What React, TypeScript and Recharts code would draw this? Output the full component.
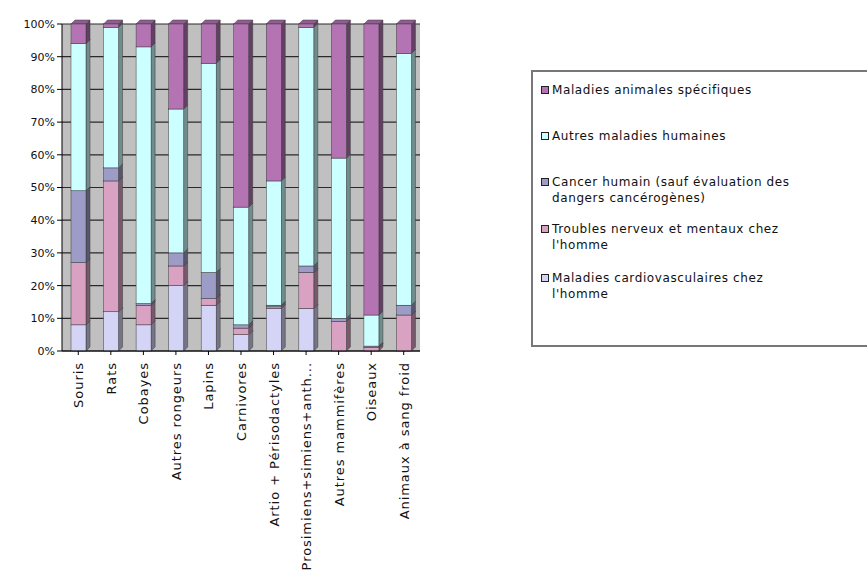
import React from "react";
import { BarChart, Bar, XAxis, YAxis, CartesianGrid } from "recharts";

const categories = [
  "Souris",
  "Rats",
  "Cobayes",
  "Autres rongeurs",
  "Lapins",
  "Carnivores",
  "Artio + Périsodactyles",
  "Prosimiens+simiens+anth...",
  "Autres mammifères",
  "Oiseaux",
  "Animaux à sang froid",
];

// parts in %, stacked bottom to top
const cardio = [8, 12, 8, 20, 14, 5, 13, 13, 0, 0, 0];
const troubles = [19, 40, 6, 6, 2, 2, 0.5, 11, 9, 1, 11];
const cancer = [22, 4, 0.5, 4, 8, 1, 0.5, 2, 1, 0.5, 3];
const autres = [45, 43, 78.5, 44, 64, 36, 38, 73, 49, 9.5, 77];
const animales = [6, 1, 7, 26, 12, 56, 48, 1, 41, 89, 9];

const yTicks = [0, 10, 20, 30, 40, 50, 60, 70, 80, 90, 100];

const series = [
  { key: "cardio", name: "Maladies cardiovasculaires chez\nl'homme", color: "#D4D4F6" },
  { key: "troubles", name: "Troubles nerveux et mentaux chez\nl'homme", color: "#D9A2C2" },
  { key: "cancer", name: "Cancer humain (sauf évaluation des\ndangers cancérogènes)", color: "#9C9CC6" },
  { key: "autres", name: "Autres maladies humaines", color: "#CCFFFF" },
  { key: "animales", name: "Maladies animales spécifiques", color: "#B474B4" },
];

const data = categories.map((name, i) => ({
  name,
  cardio: cardio[i],
  troubles: troubles[i],
  cancer: cancer[i],
  autres: autres[i],
  animales: animales[i],
}));

const FONT = "DejaVu Sans, Verdana, sans-serif";

function darken(hex: string, f: number) {
  const n = parseInt(hex.slice(1), 16);
  const r = Math.round(((n >> 16) & 255) * f);
  const g = Math.round(((n >> 8) & 255) * f);
  const b = Math.round((n & 255) * f);
  return `rgb(${r},${g},${b})`;
}

const D = 4;

function makeShape(color: string) {
  return (props: any) => {
    const { x, y, width, height } = props;
    if (!height || height <= 0) return <g />;
    const side = darken(color, 0.55);
    const top = darken(color, 0.8);
    return (
      <g>
        <polygon
          points={`${x + width},${y} ${x + width + D},${y - D} ${x + width + D},${y + height - D} ${x + width},${y + height}`}
          fill={side}
          stroke="#3a3a3a"
          strokeWidth={0.5}
        />
        <polygon
          points={`${x},${y} ${x + D},${y - D} ${x + width + D},${y - D} ${x + width},${y}`}
          fill={top}
          stroke="#3a3a3a"
          strokeWidth={0.5}
        />
        <rect x={x} y={y} width={width} height={height} fill={color} stroke="#3a3a3a" strokeWidth={0.5} />
      </g>
    );
  };
}

const XTick = (props: any) => {
  const { x, y, payload } = props;
  return (
    <text
      x={0}
      y={0}
      transform={`translate(${x + 5},${y + 5}) rotate(-90)`}
      textAnchor="end"
      fontSize={13}
      letterSpacing={0.95}
      fill="#111"
      fontFamily={FONT}
    >
      {payload.value}
    </text>
  );
};

const legendOrder = [...series].reverse();
const legendTops = [80, 126, 172, 219, 268];

export default function App() {
  return (
    <div style={{ position: "absolute", left: 0, top: 0, width: 867, height: 572, background: "#fff", overflow: "hidden" }}>
      <BarChart
        width={867}
        height={572}
        data={data}
        margin={{ top: 24, right: 447, bottom: 6, left: 12 }}
        barSize={15}
      >
        <CartesianGrid vertical={false} fill="#C0C0C0" stroke="#2a2a2a" strokeWidth={1.2} />
        <XAxis
          dataKey="name"
          interval={0}
          height={215}
          tick={<XTick />}
          tickLine={{ stroke: "#000" }}
          axisLine={{ stroke: "#000" }}
          tickSize={4}
        />
        <YAxis
          type="number"
          domain={[0, 100]}
          ticks={yTicks}
          width={50}
          tickFormatter={(v: number) => `${v}%`}
          tick={{ fontSize: 11, fill: "#111", fontFamily: FONT }}
          tickLine={{ stroke: "#000" }}
          axisLine={{ stroke: "#000" }}
          tickSize={5}
        />
        {series.map((s) => (
          <Bar
            key={s.key}
            dataKey={s.key}
            name={s.name}
            stackId="a"
            fill={s.color}
            shape={makeShape(s.color)}
            isAnimationActive={false}
          />
        ))}
      </BarChart>
      <div
        style={{
          position: "absolute",
          left: 531,
          top: 70,
          width: 345,
          height: 273,
          border: "2px solid #777",
          background: "#fff",
          fontFamily: FONT,
          fontSize: 12,
          letterSpacing: 0.6,
          color: "#111",
        }}
      >
        {legendOrder.map((s, i) => (
          <div
            key={s.key}
            style={{ position: "absolute", left: 8, top: legendTops[i] - 70, display: "flex", lineHeight: "16px" }}
          >
            <span
              style={{
                display: "inline-block",
                width: 6,
                height: 6,
                marginTop: 4,
                marginRight: 3,
                background: s.color,
                border: "1px solid #222",
              }}
            />
            <span style={{ whiteSpace: "pre" }}>{s.name}</span>
          </div>
        ))}
      </div>
    </div>
  );
}
